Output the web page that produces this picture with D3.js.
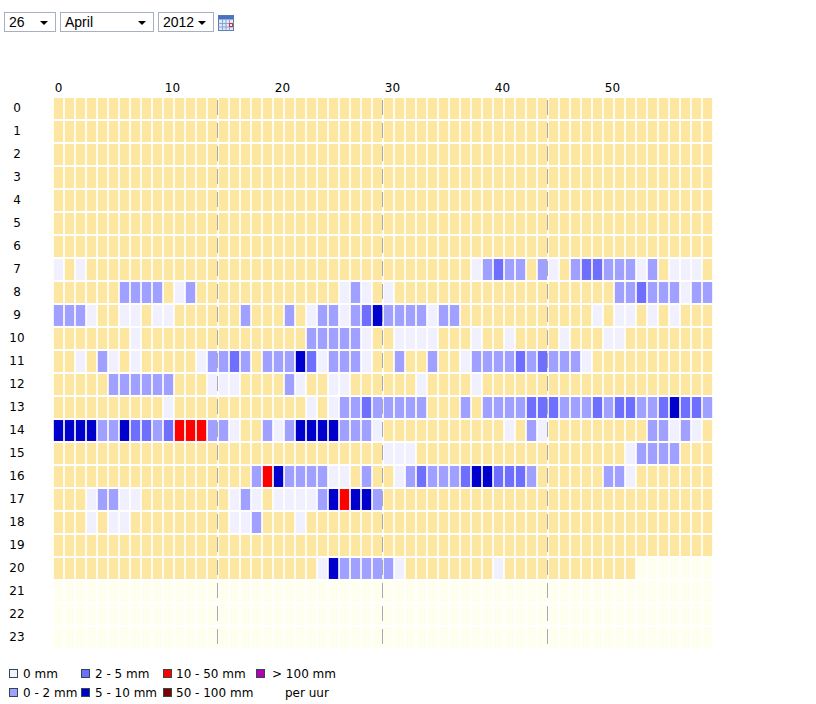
<!DOCTYPE html>
<html>
<head>
<meta charset="utf-8">
<script src="https://cdn.jsdelivr.net/npm/d3@7"></script>
<style>
	body { margin: 0; background: #fff; }
	svg text { font-family: "DejaVu Sans", Verdana, sans-serif; fill: #000; }
</style>
</head>
<body>
<script>

// date selectors
var dayValue = "26";
var monthValue = "April";
var yearValue = "2012";

// categories
var hours = [0, 1, 2, 3, 4, 5, 6, 7, 8, 9, 10, 11, 12, 13, 14, 15, 16, 17, 18, 19, 20, 21, 22, 23];
var minuteTicks = [0, 10, 20, 30, 40, 50];
var quarterMarks = [15, 30, 45];

// rain class per minute, one string per hour (minutes 0-29 + 30-59)
// '.' = dry, 'w' = 0 mm, '1' = 0-2, '2' = 2-5, '3' = 5-10, '4' = 10-50, '5' = 50-100, '6' = >100, '-' = no data yet
var rainRows = [
	".............................." + "..............................",
	".............................." + "..............................",
	".............................." + "..............................",
	".............................." + "..............................",
	".............................." + "..............................",
	".............................." + "..............................",
	".............................." + "..............................",
	"w.w..........................." + "........w1211.1w.122111w1.www.",
	"......1111.w1.............w1w." + "w....................112111w11",
	"111w..ww.ww......1...1.w11w123" + "1111w11............w.ww.w.w...",
	".......w...............11111w." + ".wwww...w..w....w...ww........",
	"..w.1w.w.....w1121.11132w111w." + ".1..1..w1111212111w...........",
	".....111111...www....1w..ww..." + "...w....w.....................",
	"..........w............w.w1121" + "1111...1.111122211121221123221",
	"3333113221244411w..1w13333111w" + "...........w.1w.........11w1w.",
	".............................." + "www...................w1111...",
	"..................1431111ww.1." + ".w121112332221......11w.......",
	"...w11ww........w1w.wwww134331" + "..............................",
	"...w.ww.........ww1...w......." + "..............................",
	".............................." + "..............................",
	"........................w31111" + "1w........w............-------",
	"------------------------------" + "------------------------------",
	"------------------------------" + "------------------------------",
	"------------------------------" + "------------------------------"
];

// legend
var legendCodes = ["w", "1", "2", "3", "4", "5", "6"];
var legendLabels = ["0 mm", "0 - 2 mm", "2 - 5 mm", "5 - 10 mm", "10 - 50 mm", "50 - 100 mm", "> 100 mm"];
var legendNote = "per uur";

/*************************************************/

var colors = {
	".": "#fce6a0",
	"-": "#fffff0",
	"w": "#f0f0ff",
	"1": "#9fa0ff",
	"2": "#6e6eff",
	"3": "#0000cc",
	"4": "#ff0000",
	"5": "#800000",
	"6": "#b400b4"
};

var width = 816, height = 704;
var svg = d3.select("body").append("svg")
	.attr("width", width)
	.attr("height", height);

var minutes = d3.range(60);

var x = d3.scaleBand()
	.domain(minutes)
	.range([53, 713])
	.paddingInner(0.15)
	.paddingOuter(0.075);

var y = d3.scaleBand()
	.domain(hours)
	.range([97, 649])
	.paddingInner(0.09)
	.paddingOuter(0.045);

/*************************************************/
// selectors on top

var selects = [
	{ text: dayValue, x0: 4.5, x1: 55.5 },
	{ text: monthValue, x0: 60.5, x1: 153.5 },
	{ text: yearValue, x0: 158.5, x1: 213.5 }
];

var sel = svg.append("g").attr("class", "selects");
var sg = sel.selectAll("g").data(selects).enter().append("g");
sg.append("rect")
	.attr("x", function (d) { return d.x0 })
	.attr("y", 12.5)
	.attr("width", function (d) { return d.x1 - d.x0 })
	.attr("height", 19)
	.style("fill", "#fff")
	.style("stroke", "#a7b0bd");
sg.append("text")
	.attr("x", function (d) { return d.x0 + 4.5 })
	.attr("y", 27)
	.style("font-family", "'Liberation Sans', Arial, sans-serif")
	.style("font-size", "14px")
	.text(function (d) { return d.text });
sg.append("path")
	.attr("d", function (d) { var e = d.x1 - 11.5; return "M" + (e - 4) + ",21L" + (e + 4) + ",21L" + e + ",25Z" })
	.style("fill", "#000");

// calendar icon
var cal = svg.append("g").attr("transform", "translate(218,15)");
cal.append("rect").attr("x", 0.5).attr("y", 0.5).attr("width", 15).attr("height", 15)
	.style("fill", "#dfe8f6").style("stroke", "#5a7db8");
cal.append("rect").attr("x", 0.5).attr("y", 0.5).attr("width", 15).attr("height", 4)
	.style("fill", "#4a72c0");
[4, 7.5, 11].forEach(function (v) {
	cal.append("line").attr("x1", v + 0.5).attr("x2", v + 0.5).attr("y1", 4.5).attr("y2", 15.5).style("stroke", "#8aa4d4");
});
[8, 11.5].forEach(function (v) {
	cal.append("line").attr("x1", 0.5).attr("x2", 15.5).attr("y1", v + 0.5).attr("y2", v + 0.5).style("stroke", "#8aa4d4");
});
cal.append("rect").attr("x", 11.5).attr("y", 8.5).attr("width", 3).attr("height", 3)
	.style("fill", "none").style("stroke", "#e03020");

/*************************************************/
// cells

var cells = [];
hours.forEach(function (h) {
	minutes.forEach(function (m) {
		cells.push({ h: h, m: m, c: rainRows[h].charAt(m) });
	});
});

svg.append("g").attr("class", "cells")
	.selectAll("rect")
	.data(cells)
	.enter().append("rect")
	.attr("x", function (d) { return x(d.m) })
	.attr("y", function (d) { return y(d.h) })
	.attr("width", x.bandwidth())
	.attr("height", y.bandwidth())
	.style("fill", function (d) { return colors[d.c] });

// quarter hour dashed lines
svg.append("g").attr("class", "quarters")
	.selectAll("line")
	.data(quarterMarks)
	.enter().append("line")
	.attr("x1", function (d) { return Math.round(x(d) - x.step() * 0.075) - 0.5 })
	.attr("x2", function (d) { return Math.round(x(d) - x.step() * 0.075) - 0.5 })
	.attr("y1", y(0) + 2)
	.attr("y2", y(23) + y.bandwidth())
	.style("stroke", "#aaaaaa")
	.style("stroke-width", 1)
	.style("stroke-dasharray", "15,8");

/*************************************************/
// axes

var xAxis = svg.append("g")
	.attr("transform", "translate(0,95)")
	.call(d3.axisTop(x).tickValues(minuteTicks).tickSize(0).tickPadding(3));
xAxis.select(".domain").remove();
xAxis.selectAll("text")
	.attr("text-anchor", "start")
	.attr("dx", -x.bandwidth() / 2 + 1)
	.style("font-size", "12px")
	.style("font-family", "'DejaVu Sans', Verdana, sans-serif");

var yAxis = svg.append("g")
	.attr("transform", "translate(17,0)")
	.call(d3.axisLeft(y).tickSize(0).tickPadding(0));
yAxis.select(".domain").remove();
yAxis.selectAll("text")
	.attr("text-anchor", "middle")
	.style("font-size", "12px")
	.style("font-family", "'DejaVu Sans', Verdana, sans-serif");

/*************************************************/
// legend

var legX = [9, 81, 163, 256];
var legTextX = [14, 14, 13, 16];
var legY = [669, 688];
var legItems = legendCodes.map(function (c, i) {
	return { c: c, label: legendLabels[i], col: Math.floor(i / 2), row: i % 2 };
});

var leg = svg.append("g").attr("class", "legend")
	.selectAll("g")
	.data(legItems)
	.enter().append("g")
	.attr("transform", function (d) { return "translate(" + legX[d.col] + "," + legY[d.row] + ")" });
leg.append("rect")
	.attr("x", 0.5).attr("y", 0.5)
	.attr("width", 8).attr("height", 8)
	.style("fill", function (d) { return colors[d.c] })
	.style("stroke", "#2f4a4a");
leg.append("text")
	.attr("x", function (d) { return legTextX[d.col] })
	.attr("y", 9)
	.style("font-size", "12px")
	.text(function (d) { return d.label });

svg.append("text")
	.attr("x", 285)
	.attr("y", legY[1] + 9)
	.style("font-size", "12px")
	.text(legendNote);

</script>
</body>
</html>
